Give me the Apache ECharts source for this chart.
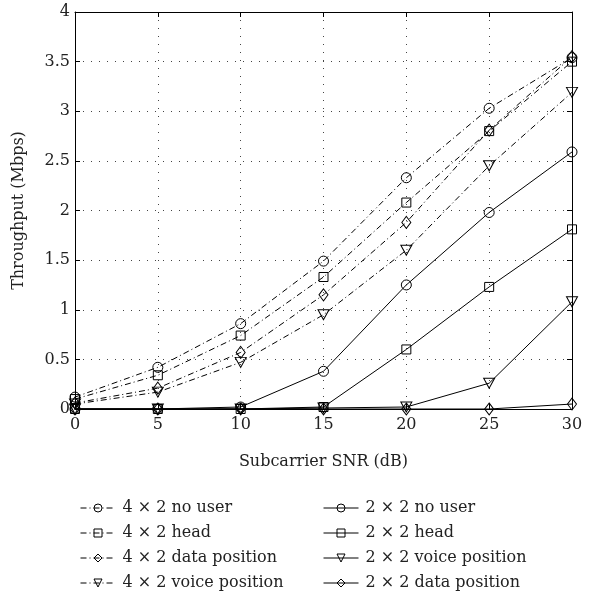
<!DOCTYPE html>
<html>
<head>
<meta charset="utf-8">
<script src="https://cdn.jsdelivr.net/npm/echarts@6/dist/echarts.min.js"></script>
<style>
  html, body { margin: 0; padding: 0; background: #fff; }
  #chart { width: 605px; height: 600px; }
</style>
</head>
<body>
<div id="chart"></div>
<script>
// Subcarrier SNR values (dB)
var snr = [0, 5, 10, 15, 20, 25, 30];

// Throughput (Mbps), 4 x 2 configurations
var mimo42NoUser = [0.12, 0.42, 0.86, 1.49, 2.33, 3.03, 3.54];
var mimo42Head = [0.10, 0.34, 0.74, 1.33, 2.08, 2.80, 3.50];
var mimo42Data = [0.06, 0.21, 0.57, 1.15, 1.88, 2.81, 3.55];
var mimo42Voice = [0.05, 0.17, 0.47, 0.95, 1.60, 2.45, 3.19];

// Throughput (Mbps), 2 x 2 configurations
var mimo22NoUser = [0, 0, 0.02, 0.38, 1.25, 1.98, 2.59];
var mimo22Head = [0, 0, 0, 0.02, 0.60, 1.23, 1.81];
var mimo22Voice = [0, 0, 0, 0.01, 0.02, 0.26, 1.08];
var mimo22Data = [0, 0, 0, 0, 0, 0, 0.05];

var yTicks = [0, 0.5, 1, 1.5, 2, 2.5, 3, 3.5, 4];
var xTicks = [0, 5, 10, 15, 20, 25, 30];

var names42 = ['4 \u00d7 2 no user', '4 \u00d7 2 head', '4 \u00d7 2 data position', '4 \u00d7 2 voice position'];
var names22 = ['2 \u00d7 2 no user', '2 \u00d7 2 head', '2 \u00d7 2 voice position', '2 \u00d7 2 data position'];

var FONT = '"DejaVu Serif", "Liberation Serif", serif';
var FS = 16;
var INK = '#222';
var DASH_DOT = [6, 3, 1, 3];
var HOLLOW = 'rgba(255,255,255,0)';

function pairs(ys) {
  return snr.map(function (x, i) { return [x, ys[i]]; });
}

function makeSeries(name, ys, symbol, rotate, dashed, size) {
  return {
    name: name,
    type: 'line',
    data: pairs(ys),
    symbol: symbol,
    symbolSize: size,
    symbolRotate: rotate,
    showAllSymbol: true,
    animation: false,
    lineStyle: { color: '#000', width: 1, type: dashed ? DASH_DOT : 'solid' },
    itemStyle: { color: HOLLOW, borderColor: '#000', borderWidth: 1 },
    emphasis: { disabled: true }
  };
}

var series = [
  makeSeries(names42[0], mimo42NoUser, 'circle', 0, true, 10),
  makeSeries(names42[1], mimo42Head, 'rect', 0, true, 9),
  makeSeries(names42[2], mimo42Data, 'diamond', 0, true, [9, 12]),
  makeSeries(names42[3], mimo42Voice, 'triangle', 180, true, [11, 10]),
  makeSeries(names22[0], mimo22NoUser, 'circle', 0, false, 10),
  makeSeries(names22[1], mimo22Head, 'rect', 0, false, 9),
  makeSeries(names22[2], mimo22Voice, 'triangle', 180, false, [11, 10]),
  makeSeries(names22[3], mimo22Data, 'diamond', 0, false, [9, 12])
];

var legendBase = {
  orient: 'vertical',
  top: 495,
  itemWidth: 35,
  itemHeight: 10,
  itemGap: 9,
  selectedMode: false,
  itemStyle: { color: HOLLOW, borderColor: '#000', borderWidth: 1 },
  lineStyle: { color: '#000', width: 1 },
  textStyle: { fontFamily: FONT, fontSize: FS, color: INK, lineHeight: 16, padding: [0, 0, 0, 2] }
};

var chart = echarts.init(document.getElementById('chart'), null, { renderer: 'canvas' });
chart.setOption({
  backgroundColor: '#fff',
  animation: false,
  grid: { left: 75, right: 33, top: 12, bottom: 191, containLabel: false },
  xAxis: [{
    type: 'value',
    min: 0, max: 30, interval: 5,
    name: 'Subcarrier SNR (dB)',
    nameLocation: 'middle',
    nameGap: 45,
    nameTextStyle: { fontFamily: FONT, fontSize: FS, color: INK },
    axisLine: { show: true, onZero: false, lineStyle: { color: '#000', width: 1 } },
    axisTick: { show: true, inside: true, length: 5, lineStyle: { color: '#000' } },
    axisLabel: { fontFamily: FONT, fontSize: FS, color: INK, margin: 8,
      formatter: function (v) { return xTicks.indexOf(v) >= 0 ? String(v) : ''; } },
    splitLine: { show: true, lineStyle: { color: '#444', width: 1, type: [1, 7] } }
  }, {
    type: 'value',
    position: 'top',
    min: 0, max: 30, interval: 5,
    axisLine: { show: true, onZero: false, lineStyle: { color: '#000', width: 1 } },
    axisTick: { show: true, inside: true, length: 5, lineStyle: { color: '#000' } },
    axisLabel: { show: false },
    splitLine: { show: false }
  }],
  yAxis: [{
    type: 'value',
    min: 0, max: 4, interval: 0.5,
    name: 'Throughput (Mbps)',
    nameLocation: 'middle',
    nameGap: 48,
    nameTextStyle: { fontFamily: FONT, fontSize: FS, color: INK },
    axisLine: { show: true, onZero: false, lineStyle: { color: '#000', width: 1 } },
    axisTick: { show: true, inside: true, length: 5, lineStyle: { color: '#000' } },
    axisLabel: { fontFamily: FONT, fontSize: FS, color: INK, margin: 5,
      formatter: function (v) { return yTicks.indexOf(v) >= 0 ? String(v) : ''; } },
    splitLine: { show: true, lineStyle: { color: '#444', width: 1, type: [1, 7] } }
  }, {
    type: 'value',
    position: 'right',
    min: 0, max: 4, interval: 0.5,
    axisLine: { show: true, onZero: false, lineStyle: { color: '#000', width: 1 } },
    axisTick: { show: true, inside: true, length: 5, lineStyle: { color: '#000' } },
    axisLabel: { show: false },
    splitLine: { show: false }
  }],
  legend: [
    Object.assign({}, legendBase, { left: 75, data: names42 }),
    Object.assign({}, legendBase, { left: 318, data: names22 })
  ],
  series: series
});
</script>
</body>
</html>
